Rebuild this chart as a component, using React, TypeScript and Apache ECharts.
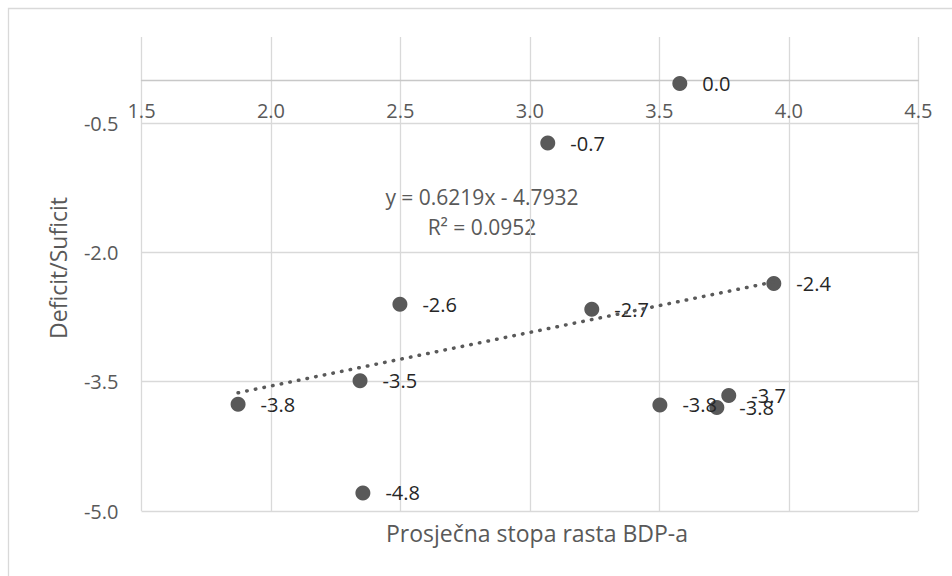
import React, { useEffect, useRef } from 'react';
import * as echarts from 'echarts';

// Prosječna stopa rasta BDP-a (x) and Deficit/Suficit (y)
const growthRate = [3.579, 3.069, 2.498, 3.239, 3.942, 1.873, 2.344, 2.355, 3.502, 3.722, 3.768];
const balance = [-0.04, -0.73, -2.6, -2.66, -2.36, -3.76, -3.49, -4.79, -3.77, -3.8, -3.66];

const xTickValues = [1.5, 2.0, 2.5, 3.0, 3.5, 4.0, 4.5];
const yTickValues = [-5.0, -3.5, -2.0, -0.5];

const trendSlope = 0.6219;
const trendIntercept = -4.7932;
const equationText = 'y = 0.6219x - 4.7932';
const r2Text = 'R² = 0.0952';

const xTitle = 'Prosječna stopa rasta BDP-a';
const yTitle = 'Deficit/Suficit';

const FONT = '"Open Sans", "Noto Sans", sans-serif';

const X_MIN = 1.5;
const X_MAX = 4.5;
const Y_MIN = -5;
const Y_MAX = 0.5;
const Y_CROSS = 0; // horizontal axis crosses at y = 0

const GRID = { left: 141.5, right: 33.7, top: 37, bottom: 65 };
const H = 576;

export default function App() {
  const ref = useRef<HTMLDivElement>(null);

  useEffect(() => {
    if (!ref.current) return;
    const chart = echarts.init(ref.current, null, { renderer: 'svg' });

    const points = growthRate.map((x, i) => [x, balance[i]]);
    const minX = Math.min(...growthRate);
    const maxX = Math.max(...growthRate);
    const trend = [
      [minX, trendSlope * minX + trendIntercept],
      [maxX, trendSlope * maxX + trendIntercept],
    ];

    const gridH = H - GRID.top - GRID.bottom;
    // move the x axis (line + labels) up to where y = 0
    const xAxisOffset = -gridH * ((Y_CROSS - Y_MIN) / (Y_MAX - Y_MIN));

    const isTick = (v: number, list: number[]) => list.some((t) => Math.abs(t - v) < 1e-6);

    chart.setOption({
      animation: false,
      backgroundColor: '#ffffff',
      grid: { ...GRID, containLabel: false },
      xAxis: {
        type: 'value',
        min: X_MIN,
        max: X_MAX,
        interval: 0.5,
        position: 'bottom',
        offset: xAxisOffset,
        axisLine: { show: true, onZero: false, lineStyle: { color: '#c8c8c8', width: 1.3 } },
        axisTick: { show: false },
        axisLabel: {
          margin: 20,
          color: '#595959',
          fontSize: 20,
          fontFamily: FONT,
          formatter: (v: number) => (isTick(v, xTickValues) ? v.toFixed(1) : ''),
        },
        splitLine: { show: true, lineStyle: { color: '#d9d9d9', width: 1.3 } },
      },
      yAxis: {
        type: 'value',
        min: Y_MIN,
        max: Y_MAX,
        interval: 0.5,
        axisLine: { show: false },
        axisTick: { show: false },
        axisLabel: {
          margin: 23,
          color: '#595959',
          fontSize: 20,
          fontFamily: FONT,
          formatter: (v: number) => (isTick(v, yTickValues) ? v.toFixed(1) : ''),
        },
        splitLine: {
          show: true,
          lineStyle: { color: ['#d9d9d9', 'rgba(0,0,0,0)', 'rgba(0,0,0,0)'], width: 1.3 },
        },
      },
      series: [
        {
          type: 'scatter',
          data: points,
          symbol: 'circle',
          symbolSize: 15,
          itemStyle: { color: '#595959', opacity: 1 },
          label: {
            show: true,
            position: 'right',
            distance: 15,
            color: '#262626',
            fontSize: 20,
            fontFamily: FONT,
            formatter: (p: any) => {
              const s = (p.value[1] as number).toFixed(1);
              return s === '-0.0' ? '0.0' : s;
            },
          },
          z: 3,
        },
        {
          type: 'line',
          data: trend,
          showSymbol: false,
          symbol: 'none',
          silent: true,
          lineStyle: { color: '#595959', width: 3.5, type: [0.5, 8.3], cap: 'round' },
          z: 4,
        },
      ],
      graphic: [
        {
          type: 'rect',
          shape: { x: 8.5, y: 8.5, width: 1000, height: 1000 },
          style: { fill: 'none', stroke: '#d9d9d9', lineWidth: 1.3 },
          silent: true,
        },
        {
          type: 'text',
          x: 482,
          y: 197,
          style: { text: equationText, fill: '#595959', font: `21px ${FONT}`, textAlign: 'center', textVerticalAlign: 'middle' },
        },
        {
          type: 'text',
          x: 482,
          y: 227,
          style: { text: r2Text, fill: '#595959', font: `21px ${FONT}`, textAlign: 'center', textVerticalAlign: 'middle' },
        },
        {
          type: 'text',
          x: 537,
          y: 533,
          style: { text: xTitle, fill: '#595959', font: `23px ${FONT}`, textAlign: 'center', textVerticalAlign: 'middle' },
        },
        {
          type: 'text',
          x: 58,
          y: 268,
          rotation: Math.PI / 2,
          style: { text: yTitle, fill: '#595959', font: `23px ${FONT}`, textAlign: 'center', textVerticalAlign: 'middle' },
        },
      ],
    });

    return () => chart.dispose();
  }, []);

  return (
    <div
      ref={ref}
      style={{ position: 'fixed', left: 0, top: 0, width: 952, height: 576, background: '#fff' }}
    />
  );
}
